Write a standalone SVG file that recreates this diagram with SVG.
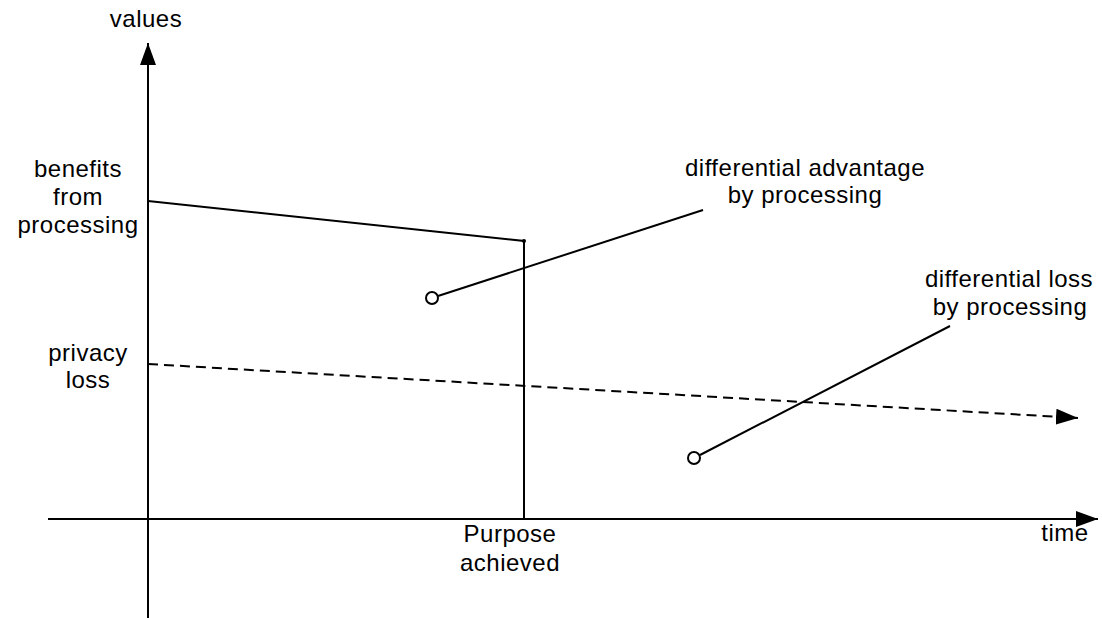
<svg xmlns="http://www.w3.org/2000/svg" width="1102" height="618" viewBox="0 0 1102 618">
<style>
.t{font-family:"Liberation Sans",Arial,sans-serif;font-size:24px;letter-spacing:0.5px;fill:#000;text-anchor:middle}
.l{stroke:#000;stroke-width:2;fill:none}
</style>
<defs>
<marker id="ah" markerUnits="userSpaceOnUse" markerWidth="22" markerHeight="16" refX="22" refY="8" orient="auto" viewBox="0 0 22 16">
<path d="M0,0 L22,8 L0,16 Z" fill="#000"/>
</marker>
</defs>
<rect width="1102" height="618" fill="#fff"/>
<g id="connectors">
<line class="l" x1="148" y1="618" x2="148" y2="43" marker-end="url(#ah)"/>
<line class="l" x1="48" y1="519" x2="1098" y2="519" marker-end="url(#ah)"/>
<polyline class="l" points="148,201 524,241 524,519"/>
<circle cx="524" cy="241" r="2" fill="#000"/>
<line class="l" x1="148" y1="364" x2="1078" y2="418" stroke-dasharray="10,6" marker-end="url(#ah)"/>
<line class="l" x1="438" y1="296" x2="703" y2="210"/>
<line class="l" x1="700" y1="455" x2="950" y2="326"/>
</g>
<g id="advantage-marker"><circle class="l" cx="432" cy="298" r="6"/></g>
<g id="loss-marker"><circle class="l" cx="694" cy="458" r="6"/></g>
<g id="label-values"><text class="t" x="146" y="27">values</text></g>
<g id="label-benefits"><text class="t" x="78" y="177">benefits</text><text class="t" x="78" y="205">from</text><text class="t" x="78" y="233">processing</text></g>
<g id="label-privacy"><text class="t" x="88" y="361">privacy</text><text class="t" x="88" y="388">loss</text></g>
<g id="label-advantage"><text class="t" x="805" y="176">differential advantage</text><text class="t" x="805" y="203">by processing</text></g>
<g id="label-loss"><text class="t" x="1009" y="287">differential loss</text><text class="t" x="1010" y="315">by processing</text></g>
<g id="label-purpose"><text class="t" x="510" y="542">Purpose</text><text class="t" x="510" y="571">achieved</text></g>
<g id="label-time"><text class="t" x="1065" y="541">time</text></g>
</svg>
